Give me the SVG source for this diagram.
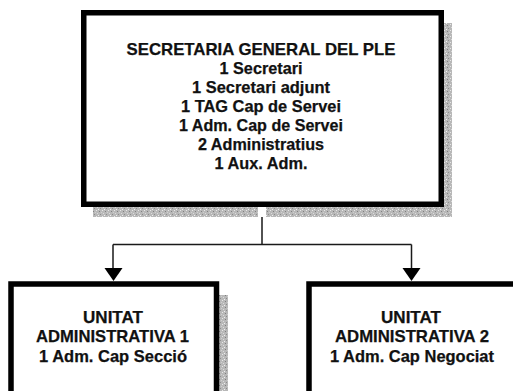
<svg xmlns="http://www.w3.org/2000/svg" width="513" height="391" viewBox="0 0 513 391">
  <style>
    .box { fill: #ffffff; stroke: #000000; stroke-width: 5.5; }
    .shadow { fill: url(#grain); }
    .txt { font-family: "Liberation Sans", Arial, sans-serif; font-weight: bold; font-size: 17px; fill: #111111; stroke: #111111; stroke-width: 0.25; text-anchor: middle; }
    .conn { fill: none; stroke: #1a1a1a; stroke-width: 1.5; }
  </style>
  <defs>
    <pattern id="grain" width="6" height="6" patternUnits="userSpaceOnUse">
      <rect width="6" height="6" fill="#b8b8b8"/>
      <rect x="0" y="0" width="1" height="1" fill="#e8e8e8"/>
      <rect x="3" y="1" width="1" height="1" fill="#808080"/>
      <rect x="1" y="3" width="1" height="1" fill="#dcdcdc"/>
      <rect x="4" y="4" width="1" height="1" fill="#8c8c8c"/>
      <rect x="2" y="5" width="1" height="1" fill="#f0f0f0"/>
      <rect x="5" y="2" width="1" height="1" fill="#d0d0d0"/>
    </pattern>
  </defs>
  <rect width="513" height="391" fill="#ffffff"/>

  <g id="connectors">
    <path class="conn" d="M262,206 V244.5 M113,244.5 H411.5 M113,244.5 V268 M411.5,244.5 V268"/>
    <path d="M104.5,268 L122.5,268 L113.5,281 Z" fill="#000000"/>
    <path d="M402.5,268 L420.5,268 L411.5,281 Z" fill="#000000"/>
  </g>

  <g id="secretaria">
    <rect class="shadow" x="93" y="23" width="359" height="194"/>
    <rect x="258" y="207" width="8" height="10" fill="#ffffff"/>
    <rect class="box" x="83.75" y="12.75" width="357.5" height="191.5"/>
    <text class="txt" x="261" y="55" textLength="269" lengthAdjust="spacingAndGlyphs">SECRETARIA GENERAL DEL PLE</text>
    <text class="txt" x="261" y="74" textLength="83" lengthAdjust="spacingAndGlyphs">1 Secretari</text>
    <text class="txt" x="261" y="93" textLength="138" lengthAdjust="spacingAndGlyphs">1 Secretari adjunt</text>
    <text class="txt" x="261" y="112" textLength="160" lengthAdjust="spacingAndGlyphs">1 TAG Cap de Servei</text>
    <text class="txt" x="261" y="131" textLength="164" lengthAdjust="spacingAndGlyphs">1 Adm. Cap de Servei</text>
    <text class="txt" x="261" y="150" textLength="126" lengthAdjust="spacingAndGlyphs">2 Administratius</text>
    <text class="txt" x="261" y="169" textLength="93" lengthAdjust="spacingAndGlyphs">1 Aux. Adm.</text>
  </g>

  <g id="unitat1">
    <rect class="shadow" x="219" y="295" width="9" height="100"/>
    <rect class="box" x="11" y="284" width="205.5" height="115"/>
    <text class="txt" x="113" y="322.5" textLength="60" lengthAdjust="spacingAndGlyphs">UNITAT</text>
    <text class="txt" x="112.5" y="342" textLength="153" lengthAdjust="spacingAndGlyphs">ADMINISTRATIVA 1</text>
    <text class="txt" x="113" y="361.5" textLength="148" lengthAdjust="spacingAndGlyphs">1 Adm. Cap Secció</text>
  </g>

  <g id="unitat2">
    <rect class="box" x="309" y="284" width="215" height="115"/>
    <text class="txt" x="411" y="322.5" textLength="60" lengthAdjust="spacingAndGlyphs">UNITAT</text>
    <text class="txt" x="412" y="342" textLength="154" lengthAdjust="spacingAndGlyphs">ADMINISTRATIVA 2</text>
    <text class="txt" x="412" y="361.5" textLength="164" lengthAdjust="spacingAndGlyphs">1 Adm. Cap Negociat</text>
  </g>
</svg>
